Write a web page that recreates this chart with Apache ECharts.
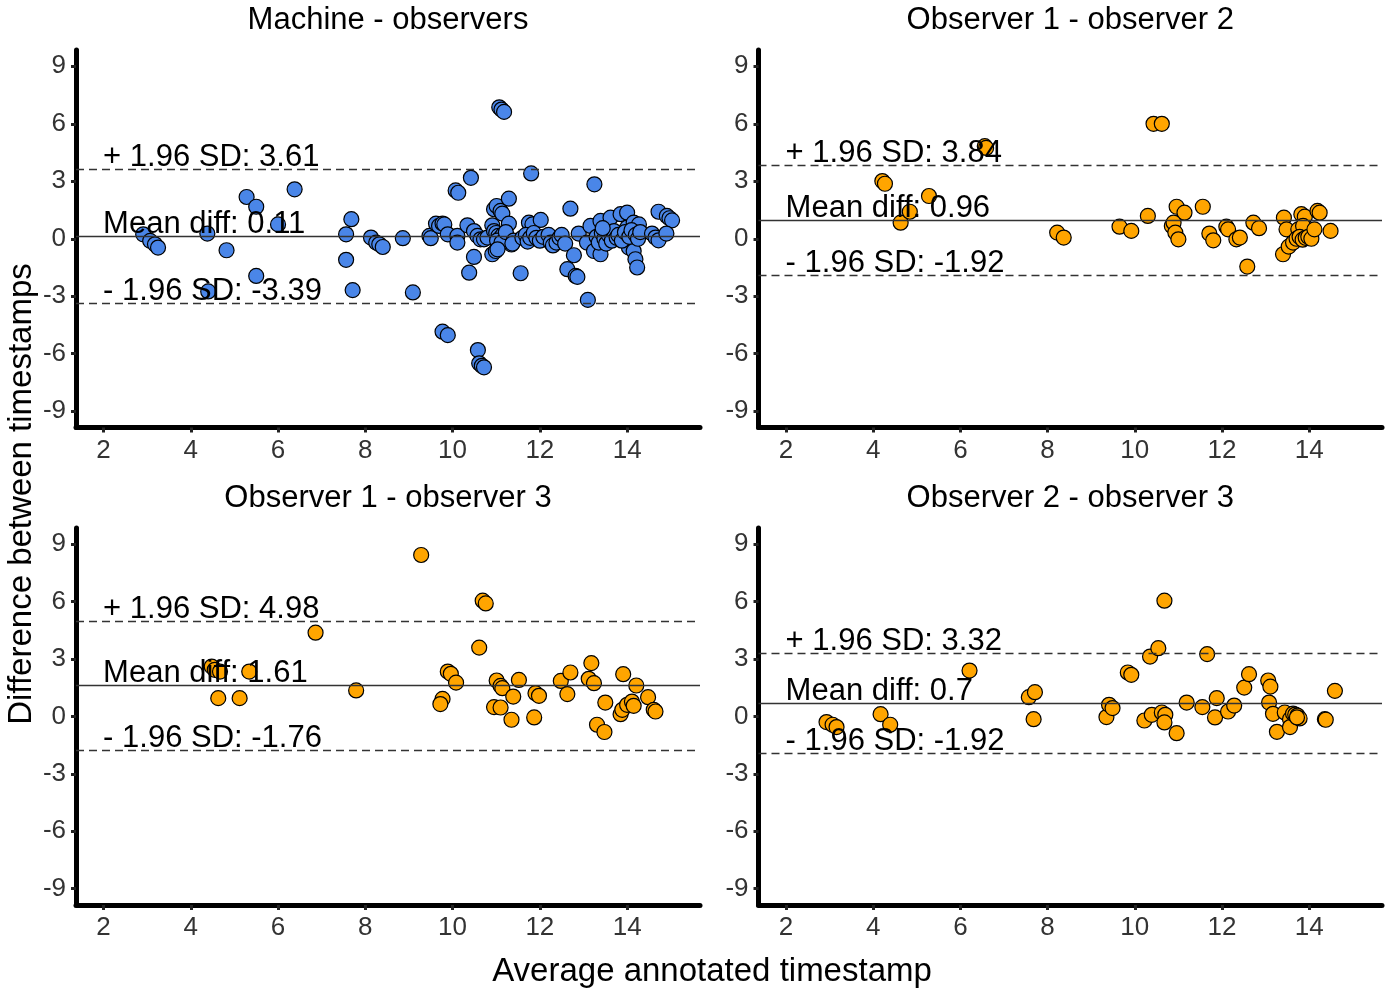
<!DOCTYPE html>
<html>
<head>
<meta charset="utf-8">
<title>Bland-Altman</title>
<script src="https://cdn.jsdelivr.net/npm/echarts@6/dist/echarts.min.js"></script>
<style>
  html, body { margin: 0; padding: 0; background: #fff; }
  #main { width: 1386px; height: 991px; }
</style>
</head>
<body>
<div id="main"></div>
<script>
// panel titles
var panelTitles = ['Machine - observers', 'Observer 1 - observer 2', 'Observer 1 - observer 3', 'Observer 2 - observer 3'];
var xTicks = [2, 4, 6, 8, 10, 12, 14];
var yTicks = [-9, -6, -3, 0, 3, 6, 9];

// mean diff and limits of agreement per panel
var meanDiff = [0.11, 0.96, 1.61, 0.7];
var upperSD = [3.61, 3.84, 4.98, 3.32];
var lowerSD = [-3.39, -1.92, -1.76, -1.92];

// [average, difference]
var machineObs = [
  [2.91,0.23],[3.07,-0.11],[3.18,-0.29],[3.25,-0.46],
  [4.38,0.27],[4.40,-2.75],[4.82,-0.6],
  [5.28,2.18],[5.50,1.67],[5.50,-1.94],[6.0,0.75],[6.38,2.58],
  [7.56,0.23],[7.68,1.02],[7.56,-1.1],[7.71,-2.68],
  [8.13,0.06],[8.25,-0.2],[8.32,-0.29],[8.40,-0.43],
  [8.86,0.03],[9.09,-2.8],[9.47,0.15],[9.50,0.03],
  [9.62,0.79],[9.69,0.67],[9.77,0.79],[9.81,0.75],[9.89,0.23],
  [9.77,-4.85],[9.89,-5.03],
  [10.07,2.52],[10.13,2.4],[10.11,0.15],[10.11,-0.2],
  [10.42,3.18],[10.34,0.7],[10.49,0.4],[10.57,0.15],[10.64,-0.03],[10.49,-0.95],[10.38,-1.77],
  [10.58,-5.81],[10.61,-6.5],[10.67,-6.63],[10.72,-6.71],
  [11.07,6.86],[11.12,6.74],[11.18,6.62],
  [10.95,1.54],[11.01,1.71],[11.10,1.45],[11.14,1.31],[11.29,2.09],[11.29,0.79],[10.91,0.7],
  [10.72,-0.03],[10.80,0.06],
  [10.95,0.4],[11.0,0.3],[11.05,0.15],[11.1,0.05],[11.15,0.2],[11.2,-0.05],[11.25,0.1],
  [11.3,-0.15],[11.35,-0.3],[11.02,-0.1],[11.12,-0.2],[11.22,0.35],[11.4,-0.1],[11.37,-0.25],
  [10.91,-0.81],[10.99,-0.64],[11.03,-0.55],
  [11.56,-1.8],[11.80,3.41],[11.75,0.84],[11.83,0.75],[12.02,0.98],
  [11.6,0.05],[11.68,0.2],[11.72,-0.15],[11.78,0.05],[11.86,0.3],[11.92,0.05],[12.0,-0.1],[12.08,0.1],
  [12.2,0.2],[12.25,-0.2],[12.3,-0.35],[12.38,-0.2],[12.45,0.05],[12.5,0.2],[12.58,-0.25],
  [12.70,1.57],[12.78,-0.86],[12.63,-1.59],[12.82,-1.94],[12.86,-1.99],[12.89,0.27],
  [13.10,-3.19],[13.25,2.84],[13.08,-0.2],[13.16,0.67],[13.24,-0.64],[13.39,-0.81],[13.39,0.93],[13.62,1.1],
  [13.3,0.1],[13.35,-0.2],[13.42,0.3],[13.48,0.0],[13.52,-0.25],[13.58,0.2],[13.65,-0.1],[13.7,0.4],[13.76,0.05],[13.44,0.55],
  [13.85,1.28],[14.0,1.36],[14.0,0.58],[14.15,0.84],[14.27,0.75],
  [14.04,-0.46],[14.15,-0.64],[14.19,-1.07],[14.23,-1.5],
  [13.8,0.2],[13.88,-0.1],[13.95,0.35],[14.05,0.1],[14.1,0.45],[14.2,0.2],[14.25,0.0],[14.3,0.35],
  [14.57,0.27],[14.65,0.06],[14.72,-0.08],[14.72,1.41],[14.91,1.19],[14.97,1.07],[15.03,0.96],[14.90,0.27]
];
var obs12 = [
  [4.21,3.01],[4.27,2.87],[4.63,0.84],[4.84,1.41],[5.28,2.23],[6.56,4.83],[6.59,4.74],
  [8.22,0.32],[8.37,0.06],
  [9.65,0.63],[9.92,0.41],[10.30,1.19],[10.43,6.0],[10.62,6.0],
  [10.96,1.67],[11.14,1.36],[10.85,0.67],[10.89,0.84],[10.93,0.32],[11.0,-0.03],
  [11.56,1.67],[11.71,0.27],[11.80,-0.08],[12.10,0.63],[12.14,0.49],[12.33,-0.03],[12.41,0.06],
  [12.58,-1.45],[12.72,0.84],[12.85,0.55],
  [13.42,1.1],[13.48,0.49],[13.40,-0.81],[13.53,-0.41],[13.63,-0.2],
  [13.82,1.28],[13.90,1.15],[13.75,0.49],[13.86,0.67],
  [13.71,0.0],[13.78,0.1],[13.85,-0.05],[13.92,0.05],[13.98,0.1],[14.05,0.0],
  [14.12,0.49],[14.19,1.45],[14.24,1.36],[14.49,0.41]
];
var obs13 = [
  [4.48,2.61],[4.55,2.44],[4.67,2.35],[5.34,2.35],[4.63,0.96],[5.12,0.96],[6.86,4.38],[7.79,1.36],
  [9.28,8.44],[10.69,6.05],[10.76,5.91],[10.61,3.6],
  [9.89,2.35],[9.96,2.23],[10.08,1.77],[9.77,0.92],[9.72,0.65],
  [11.01,1.88],[11.10,1.6],[11.14,1.48],[11.52,1.91],[11.39,1.04],[10.95,0.49],[11.10,0.47],[11.35,-0.17],
  [11.90,1.22],[11.98,1.08],[11.87,-0.05],
  [12.48,1.86],[12.70,2.3],[12.63,1.17],
  [13.18,2.79],[13.12,1.97],[13.24,1.74],[13.50,0.73],[13.31,-0.43],[13.48,-0.81],
  [13.91,2.21],[14.21,1.62],[13.85,0.12],[13.89,0.35],[14.0,0.61],[14.11,0.78],[14.15,0.56],
  [14.48,1.01],[14.61,0.35],[14.65,0.26]
];
var obs23 = [
  [2.93,-0.29],[3.07,-0.43],[3.16,-0.55],[4.17,0.12],[4.39,-0.43],[6.21,2.4],
  [7.57,1.01],[7.71,1.27],[7.68,-0.14],
  [9.35,-0.03],[9.41,0.61],[9.49,0.44],[9.84,2.3],[9.92,2.18],
  [10.22,-0.21],[10.39,0.09],[10.35,3.13],[10.54,3.57],[10.68,6.05],
  [10.62,0.21],[10.70,0.09],[10.68,-0.31],[10.96,-0.87],
  [11.19,0.73],[11.55,0.49],[11.66,3.26],[11.88,0.96],[11.84,-0.05],
  [12.14,0.26],[12.28,0.57],[12.51,1.51],[12.62,2.21],
  [13.06,1.88],[13.11,1.56],[13.08,0.73],[13.17,0.14],[13.26,-0.8],
  [13.44,0.21],[13.56,-0.14],[13.56,-0.55],
  [13.63,0.15],[13.68,0.1],[13.73,0.05],[13.78,-0.1],[13.72,-0.05],
  [14.36,-0.14],[14.38,-0.17],[14.59,1.34]
];

var panelData = [machineObs, obs12, obs13, obs23];
var panelColors = ['#4A86E8', '#FFA500', '#FFA500', '#FFA500'];

var grids = [
  {left: 76, top: 50, width: 624, height: 377.5},
  {left: 758.5, top: 50, width: 623.5, height: 377.5},
  {left: 76, top: 528, width: 624, height: 377},
  {left: 758.5, top: 528, width: 623.5, height: 377}
];

var fontFam = '"Liberation Sans", Arial, Helvetica, sans-serif';
var labelX = 1.98;     // where the annotation text starts
var labelLift = 0.62;  // annotation sits a bit above its line

var xAxes = [], yAxes = [], series = [], graphics = [];
for (var i = 0; i < 4; i++) {
  xAxes.push({
    type: 'value', gridIndex: i, min: 1.37, max: 15.67,
    splitLine: {show: false},
    axisLine: {onZero: false, lineStyle: {color: '#000', width: 5}},
    axisTick: {customValues: xTicks, length: 5, lineStyle: {color: '#222', width: 3}},
    axisLabel: {customValues: xTicks, color: '#333', fontSize: 26, fontFamily: fontFam, margin: 10}
  });
  yAxes.push({
    type: 'value', gridIndex: i, min: -9.85, max: 9.85,
    splitLine: {show: false},
    axisLine: {onZero: false, lineStyle: {color: '#000', width: 5}},
    axisTick: {customValues: yTicks, length: 5, lineStyle: {color: '#222', width: 3}},
    axisLabel: {customValues: yTicks, color: '#333', fontSize: 26, fontFamily: fontFam, margin: 10}
  });
  series.push({
    type: 'scatter', xAxisIndex: i, yAxisIndex: i,
    data: panelData[i],
    symbolSize: 15,
    itemStyle: {color: panelColors[i], borderColor: '#000', borderWidth: 1.2, opacity: 1},
    emphasis: {disabled: true},
    markLine: {
      silent: true, symbol: ['none', 'none'],
      label: {show: false},
      lineStyle: {color: '#333', width: 1.3},
      data: [
        {yAxis: meanDiff[i], lineStyle: {type: 'solid'}},
        {yAxis: upperSD[i], lineStyle: {type: [8, 5]}},
        {yAxis: lowerSD[i], lineStyle: {type: [8, 5]}}
      ]
    }
  });
  // text annotations for mean and limits
  series.push({
    type: 'scatter', xAxisIndex: i, yAxisIndex: i, z: 5,
    symbolSize: 1, itemStyle: {color: 'rgba(0,0,0,0)', opacity: 1},
    silent: true,
    label: {
      show: true, position: 'right', distance: 0, formatter: '{b}', opacity: 1,
      color: '#000', fontSize: 31, fontFamily: fontFam, align: 'left', verticalAlign: 'middle'
    },
    data: [
      {name: '+ 1.96 SD: ' + upperSD[i], value: [labelX, upperSD[i] + labelLift]},
      {name: 'Mean diff: ' + meanDiff[i], value: [labelX, meanDiff[i] + labelLift]},
      {name: '- 1.96 SD: ' + lowerSD[i], value: [labelX, lowerSD[i] + labelLift]}
    ]
  });
  graphics.push({
    type: 'text',
    x: grids[i].left + grids[i].width / 2,
    y: grids[i].top - 30,
    style: {text: panelTitles[i], fill: '#000', font: '31px ' + fontFam, textAlign: 'center', textVerticalAlign: 'middle'}
  });
}

graphics.push({
  type: 'text', x: 712, y: 972,
  style: {text: 'Average annotated timestamp', fill: '#000', font: '33px ' + fontFam, textAlign: 'center', textVerticalAlign: 'middle'}
});
graphics.push({
  type: 'text', x: 22, y: 494, rotation: Math.PI / 2,
  style: {text: 'Difference between timestamps', fill: '#000', font: '33px ' + fontFam, textAlign: 'center', textVerticalAlign: 'middle'}
});

var myChart = echarts.init(document.getElementById('main'), null, {renderer: 'canvas'});
myChart.setOption({
  backgroundColor: '#fff',
  animation: false,
  grid: grids,
  xAxis: xAxes,
  yAxis: yAxes,
  series: series,
  graphic: graphics
});
</script>
</body>
</html>
